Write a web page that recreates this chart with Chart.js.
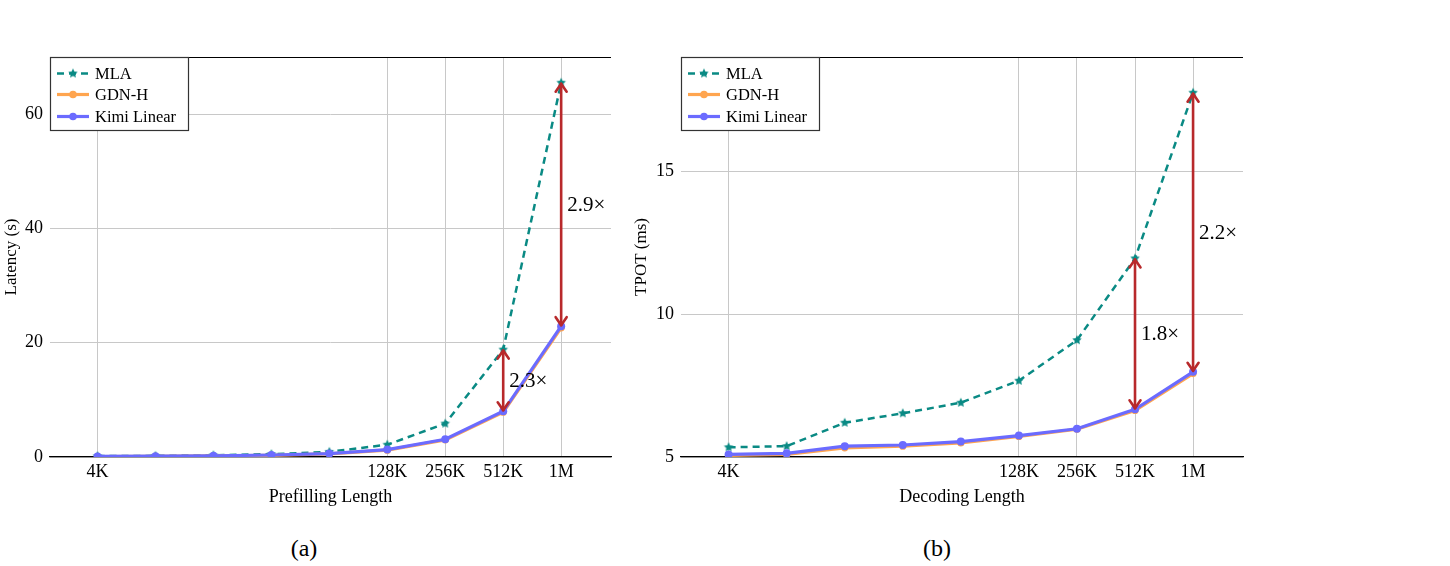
<!DOCTYPE html>
<html><head><meta charset="utf-8">
<script src="https://cdn.jsdelivr.net/npm/chart.js@4.4.1/dist/chart.umd.min.js"></script>
<style>
html,body{margin:0;padding:0;background:#fff}
body{width:1450px;height:566px;position:relative;overflow:hidden;font-family:'Liberation Serif','DejaVu Serif',serif}
.wrap{position:absolute;top:0;width:640px;height:520px}
.cap{position:absolute;top:533px;font-size:24px;line-height:30px;transform:translateX(-50%);color:#000}
</style></head><body>
<div class="wrap" style="left:0"><canvas id="c1" width="640" height="520"></canvas></div>
<div class="wrap" style="left:630px"><canvas id="c2" width="640" height="520"></canvas></div>
<div class="cap" style="left:304px">(a)</div>
<div class="cap" style="left:937px">(b)</div>
<script>
// ---------- data ----------
const lengthLabels = ["4K","8K","16K","32K","64K","128K","256K","512K","1M"];
const lengthTokens = [4096,8192,16384,32768,65536,131072,262144,524288,1048576];
const xTickTokens  = [4096,131072,262144,524288,1048576];
const xTickLabels  = ["4K","128K","256K","512K","1M"];

const prefillMLA  = [0.15,0.2,0.3,0.5,0.9,2.15,5.85,18.8,65.5];
const prefillGDNH = [0.08,0.12,0.18,0.3,0.55,1.2,3.0,7.85,22.6];
const prefillKimi = [0.1,0.15,0.2,0.35,0.6,1.3,3.1,8.0,22.9];
const prefillYTicks = [0,20,40,60];
const prefillArrowIdx = [7,8];
const prefillArrowLabels = ["2.3×","2.9×"];

const decodeMLA  = [5.34,5.38,6.2,6.53,6.9,7.67,9.09,11.95,17.75];
const decodeGDNH = [5.06,5.09,5.32,5.38,5.49,5.72,5.97,6.63,7.92];
const decodeKimi = [5.09,5.13,5.38,5.42,5.54,5.75,5.99,6.67,7.98];
const decodeYTicks = [5,10,15];
const decodeArrowIdx = [7,8];
const decodeArrowLabels = ["1.8×","2.2×"];

const seriesNames = ["MLA","GDN-H","Kimi Linear"];
// ---------- styles ----------
const C_MLA = '#0a8a84', C_GDN = '#ffa54f', C_KIMI = '#6b6bff', C_ARROW = '#b8292b';
const FONT = "'Liberation Serif', 'DejaVu Serif', serif";

function starCanvas(color, R, r){
  const s = Math.ceil(R*2+2), c = document.createElement('canvas');
  c.width = s; c.height = s;
  const g = c.getContext('2d');
  g.fillStyle = color; g.beginPath();
  for(let k=0;k<10;k++){
    const rad = k%2===0 ? R : r;
    const a = -Math.PI/2 + k*Math.PI/5;
    const x = s/2 + rad*Math.cos(a), y = s/2 + rad*Math.sin(a);
    k===0 ? g.moveTo(x,y) : g.lineTo(x,y);
  }
  g.closePath(); g.fill();
  return c;
}
const STAR = starCanvas(C_MLA, 5, 2.4);
const lx = lengthTokens.map(t => Math.log2(t));

function pts(vals){ return vals.map((v,i)=>({x:lx[i], y:v})); }

function datasets(mla, gdn, kimi){
  return [
    {label:seriesNames[0], data:pts(mla), borderColor:C_MLA, backgroundColor:C_MLA, borderWidth:2.5,
     borderDash:[7,5], pointStyle:STAR, pointRadius:5, order:2},
    {label:seriesNames[1], data:pts(gdn), borderColor:C_GDN, backgroundColor:C_GDN, borderWidth:3.2,
     pointStyle:'circle', pointRadius:3.6, pointBorderWidth:0, order:1},
    {label:seriesNames[2], data:pts(kimi), borderColor:C_KIMI, backgroundColor:C_KIMI, borderWidth:3.2,
     pointStyle:'circle', pointRadius:4, pointBorderWidth:0, order:0}
  ];
}

const framePlugin = {
  id:'frame',
  afterDraw(chart, args, o){
    const {ctx, chartArea:a} = chart;
    ctx.save();
    ctx.strokeStyle = '#000'; ctx.lineWidth = 1.2;
    ctx.beginPath(); ctx.moveTo(a.left, a.top+0.5); ctx.lineTo(a.right, a.top+0.5); ctx.stroke();
    ctx.restore();
  }
};

const arrowPlugin = {
  id:'arrows',
  afterDatasetsDraw(chart, args, o){
    const {ctx} = chart, xs = chart.scales.x, ys = chart.scales.y;
    const top = chart.data.datasets[0].data, bot = chart.data.datasets[2].data;
    ctx.save();
    ctx.strokeStyle = C_ARROW; ctx.lineWidth = 2.6; ctx.lineCap = 'round'; ctx.lineJoin='round';
    o.idx.forEach((i,k)=>{
      const x = xs.getPixelForValue(top[i].x);
      const y1 = ys.getPixelForValue(top[i].y), y2 = ys.getPixelForValue(bot[i].y);
      ctx.beginPath(); ctx.moveTo(x,y1+1); ctx.lineTo(x,y2-1); ctx.stroke();
      ctx.beginPath(); ctx.moveTo(x-5.5,y1+9); ctx.lineTo(x,y1+1); ctx.lineTo(x+5.5,y1+9); ctx.stroke();
      ctx.beginPath(); ctx.moveTo(x-5.5,y2-9); ctx.lineTo(x,y2-1); ctx.lineTo(x+5.5,y2-9); ctx.stroke();
      ctx.fillStyle = '#000'; ctx.font = "21px "+FONT; ctx.textAlign='left'; ctx.textBaseline='middle';
      ctx.fillText(o.labels[k], x+6, (y1+y2)/2+1);
    });
    ctx.restore();
  }
};

const legendPlugin = {
  id:'boxlegend',
  afterDraw(chart, args, o){
    const {ctx, chartArea:a} = chart;
    const x0 = a.left, y0 = a.top, w = o.width, h = 73;
    ctx.save();
    ctx.fillStyle = '#fff'; ctx.fillRect(x0, y0, w, h);
    ctx.strokeStyle = '#333'; ctx.lineWidth = 1.2; ctx.strokeRect(x0+0.5, y0+0.5, w, h);
    const rows = [16.5, 37.5, 59.5];
    chart.data.datasets.forEach((ds,i)=>{
      const y = y0 + rows[i];
      ctx.strokeStyle = ds.borderColor; ctx.lineWidth = ds.borderWidth;
      ctx.setLineDash(ds.borderDash || []);
      ctx.beginPath(); ctx.moveTo(x0+7, y); ctx.lineTo(x0+39, y); ctx.stroke();
      ctx.setLineDash([]);
      if(ds.pointStyle === STAR){ ctx.drawImage(STAR, x0+23-STAR.width/2, y-STAR.height/2); }
      else { ctx.fillStyle = ds.backgroundColor; ctx.beginPath(); ctx.arc(x0+23, y, 3.8, 0, Math.PI*2); ctx.fill(); }
      ctx.fillStyle = '#000'; ctx.font = "16.5px "+FONT; ctx.textAlign='left'; ctx.textBaseline='middle';
      ctx.fillText(ds.label, x0+45, y+1);
    });
    ctx.restore();
  }
};

function makeChart(id, mla, gdn, kimi, yTicks, ymin, ymax, yTitle, xTitle, yWidth, padRight, arrIdx, arrLab){
  return new Chart(document.getElementById(id), {
    type:'line',
    data:{datasets:datasets(mla,gdn,kimi)},
    plugins:[framePlugin, arrowPlugin, legendPlugin],
    options:{
      responsive:false, animation:false, devicePixelRatio:1,
      layout:{padding:{left:0, right:padRight, top:57, bottom:0}},
      plugins:{legend:{display:false}, tooltip:{enabled:false},
        arrows:{idx:arrIdx, labels:arrLab}, boxlegend:{width:138}},
      scales:{
        x:{type:'linear', min:11.18, max:20.86,
          afterBuildTicks(s){ s.ticks = xTickTokens.map(t=>({value:Math.log2(t)})); },
          afterFit(s){ s.height = 63; },
          ticks:{autoSkip:false, maxRotation:0, padding:4, color:'#000',
            font:{family:FONT, size:18}, callback:(v,i)=>xTickLabels[i]},
          grid:{color:'#c8c8c8', lineWidth:1, drawTicks:false},
          border:{display:true, color:'#000', width:1.2},
          title:{display:true, text:xTitle, color:'#000', font:{family:FONT, size:18}, padding:{top:0,bottom:12}}
        },
        y:{type:'linear', min:ymin, max:ymax,
          afterBuildTicks(s){ s.ticks = yTicks.map(v=>({value:v})); },
          afterFit(s){ s.width = yWidth; },
          ticks:{padding:7, color:'#000', font:{family:FONT, size:18}},
          grid:{color:'#c8c8c8', lineWidth:1, drawTicks:false},
          border:{display:false},
          title:{display:true, text:yTitle, color:'#000', font:{family:FONT, size:17}, padding:{top:1,bottom:0}}
        }
      }
    }
  });
}

makeChart('c1', prefillMLA, prefillGDNH, prefillKimi, prefillYTicks, 0, 70,
  'Latency (s)', 'Prefilling Length', 50, 29, prefillArrowIdx, prefillArrowLabels);
makeChart('c2', decodeMLA, decodeGDNH, decodeKimi, decodeYTicks, 5, 19,
  'TPOT (ms)', 'Decoding Length', 51, 27, decodeArrowIdx, decodeArrowLabels);
</script>
</body></html>
